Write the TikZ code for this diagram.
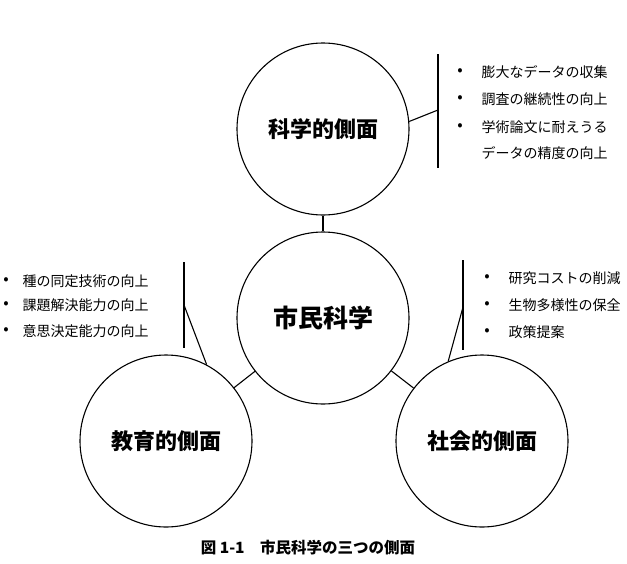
\documentclass[tikz,border=0pt]{standalone}
\usepackage{fontspec}
\setmainfont{Noto Sans CJK JP}
\begin{document}
\begin{tikzpicture}[x=1pt,y=-1pt,line width=1.1pt,
  circ/.style={draw,circle,minimum size=172pt,inner sep=0pt,font=\fontsize{22}{26}\selectfont\bfseries},
  item/.style={anchor=west,inner sep=0pt,font=\fontsize{14}{16}\selectfont},
  bul/.style={inner sep=0pt,font=\fontsize{16}{16}\selectfont}]
\useasboundingbox (0,0) rectangle (627,563);
\node[circ] (sci) at (323,129) {科学的側面};
\node[circ,font=\fontsize{25}{30}\selectfont\bfseries] (cit) at (323,318) {市民科学};
\node[circ] (edu) at (166,441) {教育的側面};
\node[circ] (soc) at (482,441) {社会的側面};
\draw (sci) -- (cit);
\draw (cit) -- (edu);
\draw (cit) -- (soc);
% top bracket
\coordinate (tT) at (438,54); \coordinate (tB) at (438,168); \coordinate (tM) at (438,110);
\draw (tT) -- (tB);
\draw (sci.5) -- (tM);
% left bracket
\coordinate (lT) at (184,262); \coordinate (lB) at (184,348); \coordinate (lM) at (184,305);
\draw (lT) -- (lB);
\draw (edu.62) -- (lM);
% right bracket
\coordinate (rT) at (463,260); \coordinate (rB) at (463,350); \coordinate (rM) at (463,307);
\draw (rT) -- (rB);
\draw (soc.113) -- (rM);
% top items
\node[bul] (tb1) at (460,72) {•}; \node[item] (t1) at (481,72) {膨大なデータの収集};
\node[bul] (tb2) at (460,99) {•}; \node[item] (t2) at (481,99) {調査の継続性の向上};
\node[bul] (tb3) at (460,127) {•}; \node[item] (t3) at (481,127) {学術論文に耐えうる};
\node[item] (t4) at (481,153) {データの精度の向上};
% left items
\node[bul] (lb1) at (6,281) {•}; \node[item] (l1) at (22,281) {種の同定技術の向上};
\node[bul] (lb2) at (6,305) {•}; \node[item] (l2) at (22,305) {課題解決能力の向上};
\node[bul] (lb3) at (6,331) {•}; \node[item] (l3) at (22,331) {意思決定能力の向上};
% right items
\node[bul] (rb1) at (487,278) {•}; \node[item] (r1) at (508,278) {研究コストの削減};
\node[bul] (rb2) at (487,305) {•}; \node[item] (r2) at (508,305) {生物多様性の保全};
\node[bul] (rb3) at (487,332) {•}; \node[item] (r3) at (508,332) {政策提案};
% caption
\node[font=\fontsize{15.5}{18}\selectfont\bfseries] (cap) at (308,548) {図 1-1　市民科学の三つの側面};
\end{tikzpicture}
\end{document}
